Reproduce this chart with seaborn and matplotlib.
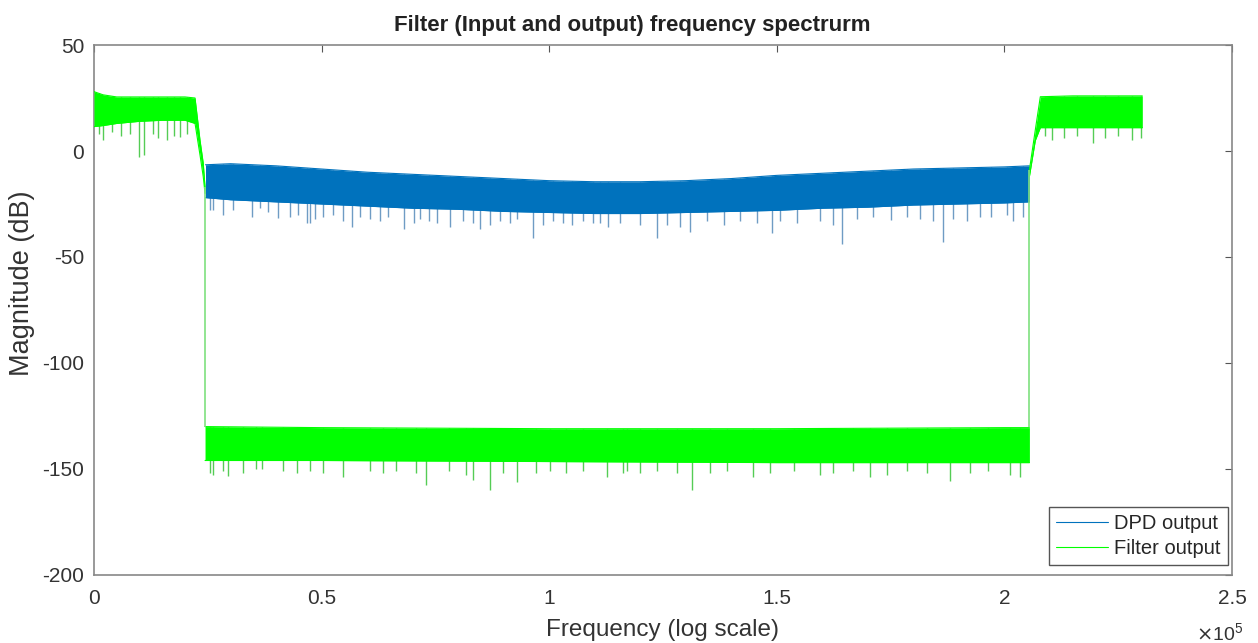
import numpy as np
import matplotlib
matplotlib.use("Agg")
import matplotlib.pyplot as plt
import seaborn as sns
from matplotlib.lines import Line2D

# frequencies in units of 1e5 Hz, magnitudes in dB

# DPD output band: upper / lower edge of the dense noise
dpd_freq = [0.245, 0.30, 0.40, 0.50, 0.60, 0.70, 0.80, 0.90, 1.00, 1.10,
            1.20, 1.30, 1.40, 1.50, 1.60, 1.70, 1.80, 1.90, 2.00, 2.055]
dpd_upper = [-6.5, -6.0, -7.0, -8.5, -10.0, -11.0, -12.0, -13.0, -14.0, -14.5,
             -14.5, -14.0, -13.0, -11.5, -10.5, -9.5, -8.5, -8.0, -7.5, -7.0]
dpd_lower = [-22.0, -23.0, -24.0, -25.0, -26.0, -27.0, -27.5, -28.5, -29.0, -29.5,
             -29.5, -29.0, -28.5, -28.0, -27.0, -26.5, -25.5, -25.0, -24.5, -24.0]
# downward spikes below the DPD band
dpd_spike_freq = [0.255, 0.262, 0.284, 0.306, 0.347, 0.365, 0.383, 0.405, 0.431, 0.449,
                  0.467, 0.475, 0.486, 0.503, 0.525, 0.547, 0.566, 0.585, 0.607, 0.629,
                  0.647, 0.68, 0.702, 0.716, 0.735, 0.754, 0.782, 0.811, 0.833, 0.848,
                  0.870, 0.892, 0.914, 0.930, 0.965, 0.987, 1.009, 1.031, 1.05, 1.075,
                  1.097, 1.112, 1.13, 1.156, 1.2, 1.237, 1.259, 1.288, 1.31, 1.347,
                  1.383, 1.42, 1.457, 1.49, 1.508, 1.545, 1.596, 1.624, 1.644, 1.677,
                  1.712, 1.75, 1.787, 1.815, 1.844, 1.866, 1.888, 1.919, 1.947, 1.97,
                  2.006, 2.02, 2.04]
dpd_spike_db = [-28, -28, -30, -28, -31, -27, -29, -31.5, -31, -30,
                -34, -34, -32, -31, -30, -33, -36, -31, -32, -33,
                -31, -37, -34, -32, -33, -34, -36, -33, -34, -37,
                -35, -33, -34, -32, -41, -35, -33, -34, -35, -33,
                -34, -34, -36, -34, -35, -41, -35, -36, -38, -33,
                -35, -33, -34, -38.5, -33, -34, -33, -35, -44, -32,
                -31, -32.5, -31, -32, -33, -43, -32, -33, -31, -31,
                -30, -33, -31]

# Filter output: passband left, stopband, passband right
flt_left_freq = [0.0, 0.02, 0.05, 0.10, 0.15, 0.20, 0.222, 0.233, 0.240, 0.244]
flt_left_upper = [28.0, 26.5, 25.5, 25.5, 25.5, 25.5, 25.0, 5.0, -5.7, -17.0]
flt_left_lower = [11.5, 12.0, 13.0, 14.0, 14.5, 14.5, 13.0, -2.0, -12.0, -20.0]
flt_stop_freq = [0.244, 0.50, 1.00, 1.50, 2.00, 2.055]
flt_stop_upper = [-130.0, -130.5, -131.0, -131.0, -130.5, -130.5]
flt_stop_lower = [-146.0, -146.0, -146.5, -147.0, -147.0, -147.0]
flt_right_freq = [2.055, 2.068, 2.079, 2.15, 2.20, 2.25, 2.303]
flt_right_upper = [-9.0, 10.0, 25.6, 26.0, 26.0, 26.0, 26.0]
flt_right_lower = [-12.0, 5.0, 11.0, 11.0, 11.0, 11.0, 11.0]
# vertical jumps at the band edges
flt_edge_freq = [0.244, 2.055]
flt_edge_top = [-17.0, -9.0]
flt_edge_bottom = [-130.0, -130.0]
# downward spikes in the filter output
flt_spike_freq = [0.01, 0.02, 0.04, 0.06, 0.08, 0.10, 0.11, 0.13, 0.14, 0.16,
                  0.175, 0.19, 0.205,
                  0.255, 0.262, 0.284, 0.295, 0.328, 0.357, 0.37, 0.416, 0.445, 0.474,
                  0.504, 0.547, 0.606, 0.635, 0.664, 0.708, 0.73, 0.781, 0.818, 0.833,
                  0.87, 0.899, 0.93, 0.972, 1.001, 1.037, 1.074, 1.127, 1.162, 1.171,
                  1.2, 1.237, 1.281, 1.314, 1.354, 1.391, 1.448, 1.486, 1.537, 1.595,
                  1.624, 1.668, 1.705, 1.743, 1.787, 1.831, 1.881, 1.925, 1.963, 2.013,
                  2.035,
                  2.09, 2.105, 2.13, 2.16, 2.195, 2.22, 2.25, 2.28, 2.30]
flt_spike_db = [8, 5, 9, 7, 8, -2.7, -2, 8, 6, 5,
                7, 6.6, 8,
                -152, -153, -151, -153.5, -152, -150, -150, -151, -152, -151,
                -152, -154, -151, -152, -151, -152, -157.5, -151, -153, -155,
                -160, -152, -156, -152, -151, -152, -151, -154, -152, -151,
                -152, -151, -152, -160, -152, -151, -154, -152, -151, -153,
                -152, -151, -154, -153, -151, -152, -155.5, -152, -151, -153,
                -154,
                7, 5, 6, 7, 4, 6, 7, 5, 6]

x_ticks = [0, 0.5, 1, 1.5, 2, 2.5]
x_tick_labels = ["0", "0.5", "1", "1.5", "2", "2.5"]
y_ticks = [-200, -150, -100, -50, 0, 50]

DPD_COLOR = "#0072BD"
DPD_SPIKE = "#6f9cc4"
FLT_COLOR = "#00FF00"
FLT_SPIKE = "#55cc55"

sns.set_style("white")
plt.rcParams["font.family"] = ["Liberation Sans", "DejaVu Sans"]
plt.rcParams["axes.unicode_minus"] = False

fig = plt.figure(figsize=(12.58, 6.43), dpi=100)
ax = fig.add_axes([0.0747, 0.1058, 0.9046, 0.8242])

# DPD output
base = np.interp(dpd_spike_freq, dpd_freq, dpd_upper)
ax.vlines(dpd_spike_freq, dpd_spike_db, base, color=DPD_SPIKE, lw=1.0, zorder=2)
ax.fill_between(dpd_freq, dpd_lower, dpd_upper, color=DPD_COLOR, lw=0, zorder=3)
sns.lineplot(x=dpd_freq, y=dpd_upper, ax=ax, color=DPD_COLOR, lw=0.8, zorder=3)
sns.lineplot(x=dpd_freq, y=dpd_lower, ax=ax, color=DPD_COLOR, lw=0.8, zorder=3)

# Filter output
segments = [(flt_left_freq, flt_left_upper, flt_left_lower),
            (flt_stop_freq, flt_stop_upper, flt_stop_lower),
            (flt_right_freq, flt_right_upper, flt_right_lower)]
all_f = flt_left_freq + flt_stop_freq + flt_right_freq
all_up = flt_left_upper + flt_stop_upper + flt_right_upper
base = np.interp(flt_spike_freq, all_f, all_up)
ax.vlines(flt_spike_freq, flt_spike_db, base, color=FLT_SPIKE, lw=1.0, zorder=4)
for f, up, lo in segments:
    ax.fill_between(f, lo, up, color=FLT_COLOR, lw=0, zorder=5)
    sns.lineplot(x=f, y=up, ax=ax, color=FLT_COLOR, lw=0.8, zorder=5)
    sns.lineplot(x=f, y=lo, ax=ax, color=FLT_COLOR, lw=0.8, zorder=5)
ax.vlines(flt_edge_freq, flt_edge_bottom, flt_edge_top, color="#7fe07f", lw=1.2, zorder=5)

ax.set_xlim(0, 2.5)
ax.set_ylim(-200, 50)
ax.set_xticks(x_ticks)
ax.set_xticklabels(x_tick_labels)
ax.set_yticks(y_ticks)
ax.tick_params(direction="in", length=5, width=0.8, colors="#555555",
               labelcolor="#333333", labelsize=15, top=True, right=True)
ax.tick_params(axis="x", pad=10)
ax.tick_params(axis="y", pad=7)
for s in ax.spines.values():
    s.set_color("#888888")
    s.set_linewidth(1.2)

ax.set_xlabel("Frequency (log scale)", fontsize=17.5, color="#333333", labelpad=8)
ax.set_ylabel("Magnitude (dB)", fontsize=19.5, color="#333333")
ax.yaxis.set_label_coords(-0.052, 0.551)
ax.set_title("Filter (Input and output) frequency spectrurm", fontsize=16,
             fontweight="bold", color="#222222", x=0.473, pad=10)
ax.text(1.01, -0.09, r"$\times\mathregular{10^5}$", transform=ax.transAxes,
        ha="right", va="top", fontsize=14, color="#333333")

handles = [Line2D([], [], color=DPD_COLOR, lw=0.8),
           Line2D([], [], color=FLT_COLOR, lw=0.8)]
leg = ax.legend(handles, ["DPD output", "Filter output"], loc="lower right",
                bbox_to_anchor=(1 - 4 / 1138, 10 / 530), borderaxespad=0,
                fontsize=14.5, frameon=True, fancybox=False, framealpha=1,
                edgecolor="#555555", handlelength=2.6, handletextpad=0.3,
                borderpad=0.35, labelspacing=0.3)
leg.get_frame().set_linewidth(1.0)

fig.savefig("out.png", dpi=100)
